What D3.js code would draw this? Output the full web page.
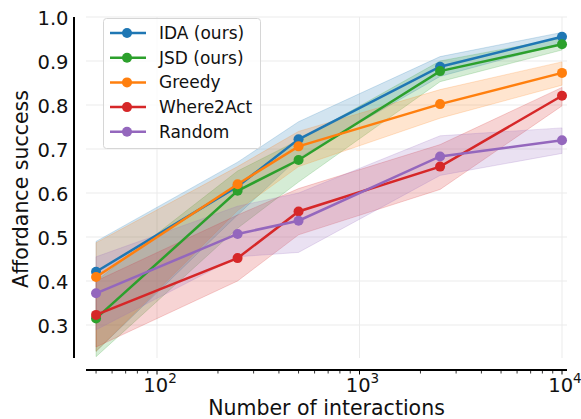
<!DOCTYPE html>
<html>
<head>
<meta charset="utf-8">
<script src="https://cdn.jsdelivr.net/npm/d3@7"></script>
<style>
  body { margin: 0; background: #fff; }
  svg { display: block; font-family: "DejaVu Sans", sans-serif; }
</style>
</head>
<body>
<div id="chart"></div>
<script>
// number of interactions (x) and series values
const interactions = [50, 250, 500, 2500, 10000];

const names = ["IDA (ours)", "JSD (ours)", "Greedy", "Where2Act", "Random"];
const colors = ["#1f77b4", "#2ca02c", "#ff7f0e", "#d62728", "#9467bd"];

const idaMean = [0.421, 0.615, 0.722, 0.887, 0.955];
const idaLow  = [0.24, 0.55, 0.68, 0.865, 0.94];
const idaHigh = [0.49, 0.67, 0.762, 0.91, 0.965];

const jsdMean = [0.315, 0.605, 0.675, 0.877, 0.938];
const jsdLow  = [0.228, 0.52, 0.625, 0.853, 0.925];
const jsdHigh = [0.40, 0.65, 0.72, 0.90, 0.952];

const greedyMean = [0.409, 0.62, 0.706, 0.802, 0.873];
const greedyLow  = [0.24, 0.56, 0.66, 0.77, 0.845];
const greedyHigh = [0.487, 0.66, 0.74, 0.835, 0.898];

const w2aMean = [0.323, 0.452, 0.558, 0.660, 0.821];
const w2aLow  = [0.25, 0.40, 0.505, 0.608, 0.798];
const w2aHigh = [0.40, 0.55, 0.61, 0.71, 0.84];

const randomMean = [0.372, 0.507, 0.537, 0.683, 0.720];
const randomLow  = [0.289, 0.455, 0.465, 0.64, 0.69];
const randomHigh = [0.455, 0.57, 0.60, 0.73, 0.748];

const yTicks = [0.3, 0.4, 0.5, 0.6, 0.7, 0.8, 0.9, 1.0];
const xMajor = [100, 1000, 10000];
const xMajorExp = ["2", "3", "4"];

const width = 581, height = 419;
const plot = { left: 86, right: 567, top: 17, bottom: 358 };

const series = [
  { mean: idaMean, low: idaLow, high: idaHigh },
  { mean: jsdMean, low: jsdLow, high: jsdHigh },
  { mean: greedyMean, low: greedyLow, high: greedyHigh },
  { mean: w2aMean, low: w2aLow, high: w2aHigh },
  { mean: randomMean, low: randomLow, high: randomHigh },
].map((s, i) => ({ ...s, name: names[i], color: colors[i] }));

const x = d3.scaleLog().domain([44.6, 10585]).range([plot.left, plot.right]);
const y = d3.scaleLinear().domain([0.225, 1.0]).range([plot.bottom, plot.top]);

const svg = d3.select("#chart").append("svg")
  .attr("width", width).attr("height", height);

// grid
svg.append("g").selectAll("line").data(yTicks).enter().append("line")
  .attr("x1", plot.left).attr("x2", plot.right)
  .attr("y1", d => y(d)).attr("y2", d => y(d))
  .attr("stroke", "#ebebeb").attr("stroke-width", 1);
svg.append("g").selectAll("line").data(xMajor).enter().append("line")
  .attr("x1", d => x(d)).attr("x2", d => x(d))
  .attr("y1", plot.top).attr("y2", plot.bottom)
  .attr("stroke", "#ebebeb").attr("stroke-width", 1);

// bands
const area = d3.area()
  .x((d, i) => x(interactions[i]))
  .y0(d => y(d[0])).y1(d => y(d[1]));
series.forEach(s => {
  svg.append("path")
    .datum(s.low.map((v, i) => [v, s.high[i]]))
    .attr("d", area)
    .attr("fill", s.color).attr("fill-opacity", 0.2)
    .attr("stroke", s.color).attr("stroke-opacity", 0.2);
});

// lines + markers
const line = d3.line().x((d, i) => x(interactions[i])).y(d => y(d));
series.forEach(s => {
  const g = svg.append("g");
  g.append("path").datum(s.mean).attr("d", line)
    .attr("fill", "none").attr("stroke", s.color).attr("stroke-width", 2.5);
  g.selectAll("circle").data(s.mean).enter().append("circle")
    .attr("cx", (d, i) => x(interactions[i])).attr("cy", d => y(d))
    .attr("r", 5).attr("fill", s.color);
});

// y spine (offset) and labels
svg.append("line")
  .attr("x1", 74).attr("x2", 74).attr("y1", plot.top).attr("y2", plot.bottom)
  .attr("stroke", "#000").attr("stroke-width", 2);
svg.append("g").selectAll("text").data(yTicks).enter().append("text")
  .attr("x", 68.5).attr("y", d => y(d) + 7.5)
  .attr("text-anchor", "end").attr("font-size", 19.5).attr("fill", "#111")
  .text(d => d.toFixed(1));

// x spine (offset), ticks and labels
const xAxisY = 370;
svg.append("line")
  .attr("x1", plot.left).attr("x2", plot.right).attr("y1", xAxisY).attr("y2", xAxisY)
  .attr("stroke", "#000").attr("stroke-width", 2);
const minor = [];
[10, 100, 1000].forEach(base => {
  for (let k = 2; k <= 9; k++) {
    const v = base * k;
    if (v >= x.domain()[0] && v <= x.domain()[1] && !xMajor.includes(v)) minor.push(v);
  }
});
svg.append("g").selectAll("line").data(minor).enter().append("line")
  .attr("x1", d => x(d)).attr("x2", d => x(d))
  .attr("y1", xAxisY).attr("y2", xAxisY + 3.5)
  .attr("stroke", "#000").attr("stroke-width", 0.8);
svg.append("g").selectAll("line").data(xMajor).enter().append("line")
  .attr("x1", d => x(d)).attr("x2", d => x(d))
  .attr("y1", xAxisY).attr("y2", xAxisY + 4.5)
  .attr("stroke", "#000").attr("stroke-width", 1);
const xl = svg.append("g").selectAll("text").data(xMajor).enter().append("text")
  .attr("x", d => x(d) + 3).attr("y", 391.5)
  .attr("text-anchor", "middle").attr("font-size", 19.5).attr("fill", "#111");
xl.append("tspan").text("10");
xl.append("tspan").attr("dy", -8.5).attr("font-size", 13.5).text((d, i) => xMajorExp[i]);

// axis titles
svg.append("text")
  .attr("x", 326.5).attr("y", 415).attr("text-anchor", "middle")
  .attr("font-size", 20.5).attr("fill", "#111").text("Number of interactions");
svg.append("text")
  .attr("transform", "translate(28,189) rotate(-90)").attr("text-anchor", "middle")
  .attr("font-size", 20.5).attr("fill", "#111").text("Affordance success");

// legend
const lg = svg.append("g");
lg.append("rect")
  .attr("x", 103.5).attr("y", 18.5).attr("width", 157).attr("height", 130).attr("rx", 3)
  .attr("fill", "#fff").attr("fill-opacity", 0.8)
  .attr("stroke", "#d6d6d6").attr("stroke-width", 1);
series.forEach((s, i) => {
  const ly = 33 + i * 24.7;
  lg.append("line").attr("x1", 110).attr("x2", 146).attr("y1", ly).attr("y2", ly)
    .attr("stroke", s.color).attr("stroke-width", 2.5);
  lg.append("circle").attr("cx", 127).attr("cy", ly).attr("r", 5).attr("fill", s.color);
  lg.append("text").attr("x", 159).attr("y", ly + 6)
    .attr("font-size", 17).attr("fill", "#111").text(s.name);
});
</script>
</body>
</html>
